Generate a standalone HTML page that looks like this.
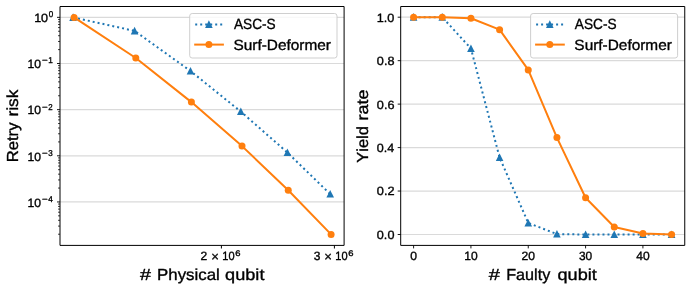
<!DOCTYPE html>
<html><head><meta charset="utf-8"><title>Retry risk and yield rate</title>
<style>html,body{margin:0;padding:0;background:#fff}svg{display:block;will-change:transform;opacity:0.999}text{font-family:"Liberation Sans",sans-serif;stroke:#000;stroke-width:0.35px;stroke-linejoin:round;text-rendering:geometricPrecision;font-kerning:none}</style></head>
<body>
<svg width="691" height="290" viewBox="0 0 691 290" fill="#000">
<rect width="691" height="290" fill="#fff"/>
<clipPath id="c1"><rect x="60" y="6.5" width="284.1" height="238.9"/></clipPath>
<line x1="60" x2="344.1" y1="17.35" y2="17.35" stroke="#dadada" stroke-width="1.2"/>
<line x1="60" x2="344.1" y1="63.5" y2="63.5" stroke="#dadada" stroke-width="1.2"/>
<line x1="60" x2="344.1" y1="109.65" y2="109.65" stroke="#dadada" stroke-width="1.2"/>
<line x1="60" x2="344.1" y1="155.8" y2="155.8" stroke="#dadada" stroke-width="1.2"/>
<line x1="60" x2="344.1" y1="201.95" y2="201.95" stroke="#dadada" stroke-width="1.2"/>
<g clip-path="url(#c1)">
<polyline points="73.1,17.4 134.6,30.9 190.5,71 240.8,111.6 287.4,152.5 330.2,194.1" fill="none" stroke="#1f77b4" stroke-width="2" stroke-dasharray="2 3.012" stroke-linejoin="round"/>
<path d="M73.1 13.3L76.9 20.9L69.3 20.9Z" fill="#1f77b4"/>
<path d="M134.6 26.8L138.4 34.4L130.8 34.4Z" fill="#1f77b4"/>
<path d="M190.5 66.9L194.3 74.5L186.7 74.5Z" fill="#1f77b4"/>
<path d="M240.8 107.5L244.6 115.1L237 115.1Z" fill="#1f77b4"/>
<path d="M287.4 148.4L291.2 156L283.6 156Z" fill="#1f77b4"/>
<path d="M330.2 190L334 197.6L326.4 197.6Z" fill="#1f77b4"/>
<polyline points="74.1,17.4 135.8,58 191.4,102.1 242,146.1 288.25,190.3 331.1,234.4" fill="none" stroke="#ff7f0e" stroke-width="2" stroke-linejoin="round" stroke-linecap="square"/>
<circle cx="74.1" cy="17.4" r="3.5" fill="#ff7f0e"/>
<circle cx="135.8" cy="58" r="3.5" fill="#ff7f0e"/>
<circle cx="191.4" cy="102.1" r="3.5" fill="#ff7f0e"/>
<circle cx="242" cy="146.1" r="3.5" fill="#ff7f0e"/>
<circle cx="288.25" cy="190.3" r="3.5" fill="#ff7f0e"/>
<circle cx="331.1" cy="234.4" r="3.5" fill="#ff7f0e"/>
</g>
<line x1="57" x2="60" y1="17.35" y2="17.35" stroke="#000" stroke-width="0.9"/>
<line x1="57" x2="60" y1="63.5" y2="63.5" stroke="#000" stroke-width="0.9"/>
<line x1="57" x2="60" y1="109.65" y2="109.65" stroke="#000" stroke-width="0.9"/>
<line x1="57" x2="60" y1="155.8" y2="155.8" stroke="#000" stroke-width="0.9"/>
<line x1="57" x2="60" y1="201.95" y2="201.95" stroke="#000" stroke-width="0.9"/>
<line x1="58" x2="60" y1="234.21" y2="234.21" stroke="#000" stroke-width="0.75"/>
<line x1="58" x2="60" y1="226.08" y2="226.08" stroke="#000" stroke-width="0.75"/>
<line x1="58" x2="60" y1="220.31" y2="220.31" stroke="#000" stroke-width="0.75"/>
<line x1="58" x2="60" y1="215.84" y2="215.84" stroke="#000" stroke-width="0.75"/>
<line x1="58" x2="60" y1="212.19" y2="212.19" stroke="#000" stroke-width="0.75"/>
<line x1="58" x2="60" y1="209.1" y2="209.1" stroke="#000" stroke-width="0.75"/>
<line x1="58" x2="60" y1="206.42" y2="206.42" stroke="#000" stroke-width="0.75"/>
<line x1="58" x2="60" y1="204.06" y2="204.06" stroke="#000" stroke-width="0.75"/>
<line x1="58" x2="60" y1="188.06" y2="188.06" stroke="#000" stroke-width="0.75"/>
<line x1="58" x2="60" y1="179.93" y2="179.93" stroke="#000" stroke-width="0.75"/>
<line x1="58" x2="60" y1="174.16" y2="174.16" stroke="#000" stroke-width="0.75"/>
<line x1="58" x2="60" y1="169.69" y2="169.69" stroke="#000" stroke-width="0.75"/>
<line x1="58" x2="60" y1="166.04" y2="166.04" stroke="#000" stroke-width="0.75"/>
<line x1="58" x2="60" y1="162.95" y2="162.95" stroke="#000" stroke-width="0.75"/>
<line x1="58" x2="60" y1="160.27" y2="160.27" stroke="#000" stroke-width="0.75"/>
<line x1="58" x2="60" y1="157.91" y2="157.91" stroke="#000" stroke-width="0.75"/>
<line x1="58" x2="60" y1="141.91" y2="141.91" stroke="#000" stroke-width="0.75"/>
<line x1="58" x2="60" y1="133.78" y2="133.78" stroke="#000" stroke-width="0.75"/>
<line x1="58" x2="60" y1="128.01" y2="128.01" stroke="#000" stroke-width="0.75"/>
<line x1="58" x2="60" y1="123.54" y2="123.54" stroke="#000" stroke-width="0.75"/>
<line x1="58" x2="60" y1="119.89" y2="119.89" stroke="#000" stroke-width="0.75"/>
<line x1="58" x2="60" y1="116.8" y2="116.8" stroke="#000" stroke-width="0.75"/>
<line x1="58" x2="60" y1="114.12" y2="114.12" stroke="#000" stroke-width="0.75"/>
<line x1="58" x2="60" y1="111.76" y2="111.76" stroke="#000" stroke-width="0.75"/>
<line x1="58" x2="60" y1="95.76" y2="95.76" stroke="#000" stroke-width="0.75"/>
<line x1="58" x2="60" y1="87.63" y2="87.63" stroke="#000" stroke-width="0.75"/>
<line x1="58" x2="60" y1="81.86" y2="81.86" stroke="#000" stroke-width="0.75"/>
<line x1="58" x2="60" y1="77.39" y2="77.39" stroke="#000" stroke-width="0.75"/>
<line x1="58" x2="60" y1="73.74" y2="73.74" stroke="#000" stroke-width="0.75"/>
<line x1="58" x2="60" y1="70.65" y2="70.65" stroke="#000" stroke-width="0.75"/>
<line x1="58" x2="60" y1="67.97" y2="67.97" stroke="#000" stroke-width="0.75"/>
<line x1="58" x2="60" y1="65.61" y2="65.61" stroke="#000" stroke-width="0.75"/>
<line x1="58" x2="60" y1="49.61" y2="49.61" stroke="#000" stroke-width="0.75"/>
<line x1="58" x2="60" y1="41.48" y2="41.48" stroke="#000" stroke-width="0.75"/>
<line x1="58" x2="60" y1="35.71" y2="35.71" stroke="#000" stroke-width="0.75"/>
<line x1="58" x2="60" y1="31.24" y2="31.24" stroke="#000" stroke-width="0.75"/>
<line x1="58" x2="60" y1="27.59" y2="27.59" stroke="#000" stroke-width="0.75"/>
<line x1="58" x2="60" y1="24.5" y2="24.5" stroke="#000" stroke-width="0.75"/>
<line x1="58" x2="60" y1="21.82" y2="21.82" stroke="#000" stroke-width="0.75"/>
<line x1="58" x2="60" y1="19.46" y2="19.46" stroke="#000" stroke-width="0.75"/>
<line x1="221.4" x2="221.4" y1="245.4" y2="248.5" stroke="#000" stroke-width="1.0"/>
<line x1="334.4" x2="334.4" y1="245.4" y2="248.5" stroke="#000" stroke-width="1.0"/>
<path d="M60 6.5H344.1V245.4H60Z" fill="none" stroke="#000" stroke-width="1.0" stroke-linejoin="miter"/>
<text x="34.15" y="22" font-size="12" textLength="13.94" lengthAdjust="spacingAndGlyphs" stroke-width="0.6">10</text>
<text x="48.79" y="17" font-size="8.5" textLength="4.48" lengthAdjust="spacingAndGlyphs" stroke-width="0.5">0</text>
<text x="27.43" y="68" font-size="12" textLength="13.5" lengthAdjust="spacingAndGlyphs" stroke-width="0.6">10</text>
<text x="41.92" y="63" font-size="8.5" textLength="5.71" lengthAdjust="spacingAndGlyphs" stroke-width="0.5">−</text>
<text x="48.32" y="63" font-size="8.5" textLength="4.58" lengthAdjust="spacingAndGlyphs" stroke-width="0.5">1</text>
<text x="27.43" y="114" font-size="12" textLength="13.5" lengthAdjust="spacingAndGlyphs" stroke-width="0.6">10</text>
<text x="41.92" y="110" font-size="8.5" textLength="5.71" lengthAdjust="spacingAndGlyphs" stroke-width="0.5">−</text>
<text x="48.15" y="110" font-size="8.5" textLength="4.39" lengthAdjust="spacingAndGlyphs" stroke-width="0.5">2</text>
<text x="27.43" y="161" font-size="12" textLength="13.5" lengthAdjust="spacingAndGlyphs" stroke-width="0.6">10</text>
<text x="41.92" y="156" font-size="8.5" textLength="5.71" lengthAdjust="spacingAndGlyphs" stroke-width="0.5">−</text>
<text x="48.24" y="156" font-size="8.5" textLength="4.46" lengthAdjust="spacingAndGlyphs" stroke-width="0.5">3</text>
<text x="27.43" y="207" font-size="12" textLength="13.5" lengthAdjust="spacingAndGlyphs" stroke-width="0.6">10</text>
<text x="41.92" y="202" font-size="8.5" textLength="5.71" lengthAdjust="spacingAndGlyphs" stroke-width="0.5">−</text>
<text x="48.16" y="202" font-size="8.5" textLength="4.58" lengthAdjust="spacingAndGlyphs" stroke-width="0.5">4</text>
<text x="200.59" y="260" font-size="12" textLength="6.71" lengthAdjust="spacingAndGlyphs" stroke-width="0.6">2</text>
<text x="211.2" y="261" font-size="13.2" textLength="7.6" lengthAdjust="spacingAndGlyphs" stroke-width="0.6">×</text>
<text x="222.36" y="260" font-size="12" textLength="12.27" lengthAdjust="spacingAndGlyphs" stroke-width="0.6">10</text>
<text x="235.2" y="256" font-size="8.1" textLength="5.24" lengthAdjust="spacingAndGlyphs">6</text>
<text x="313.74" y="260" font-size="12" textLength="6.69" lengthAdjust="spacingAndGlyphs" stroke-width="0.6">3</text>
<text x="324.2" y="261" font-size="13.2" textLength="7.6" lengthAdjust="spacingAndGlyphs" stroke-width="0.6">×</text>
<text x="335.36" y="260" font-size="12" textLength="12.27" lengthAdjust="spacingAndGlyphs" stroke-width="0.6">10</text>
<text x="348.19" y="256" font-size="8.1" textLength="5.24" lengthAdjust="spacingAndGlyphs">6</text>
<text x="139.99" y="280" font-size="16" textLength="10.93" lengthAdjust="spacingAndGlyphs">#</text>
<text x="157.09" y="280" font-size="16" textLength="62.66" lengthAdjust="spacingAndGlyphs">Physical</text>
<text x="225.11" y="280" font-size="16" textLength="39.34" lengthAdjust="spacingAndGlyphs">qubit</text>
<g transform="translate(18.4,161.1) rotate(-90)"><text x="-1.19" y="0" font-size="16" textLength="39.75" lengthAdjust="spacingAndGlyphs">Retry</text><text x="44.52" y="0" font-size="16" textLength="26.98" lengthAdjust="spacingAndGlyphs">risk</text></g>
<rect x="189.7" y="13.5" width="147.3" height="44.5" rx="2.5" ry="2.5" fill="#fff" fill-opacity="0.8" stroke="#cccccc" stroke-opacity="0.95" stroke-width="1"/>
<line x1="195.2" x2="222.9" y1="24.4" y2="24.4" stroke="#1f77b4" stroke-width="2" stroke-dasharray="2 3"/>
<path d="M208.9 20.3L212.7 27.9L205.1 27.9Z" fill="#1f77b4"/>
<line x1="195.2" x2="222.9" y1="44.6" y2="44.6" stroke="#ff7f0e" stroke-width="2" stroke-linecap="square"/>
<circle cx="208.9" cy="44.6" r="3.5" fill="#ff7f0e"/>
<text x="233.95" y="29" font-size="14.8" textLength="41.8" lengthAdjust="spacingAndGlyphs">ASC-S</text>
<text x="233.48" y="50" font-size="14.8" textLength="97.5" lengthAdjust="spacingAndGlyphs">Surf-Deformer</text>
<clipPath id="c2"><rect x="400.7" y="6.5" width="284.05" height="238.9"/></clipPath>
<line x1="400.7" x2="684.75" y1="234.5" y2="234.5" stroke="#dadada" stroke-width="1.2"/>
<line x1="400.7" x2="684.75" y1="191.04" y2="191.04" stroke="#dadada" stroke-width="1.2"/>
<line x1="400.7" x2="684.75" y1="147.58" y2="147.58" stroke="#dadada" stroke-width="1.2"/>
<line x1="400.7" x2="684.75" y1="104.12" y2="104.12" stroke="#dadada" stroke-width="1.2"/>
<line x1="400.7" x2="684.75" y1="60.66" y2="60.66" stroke="#dadada" stroke-width="1.2"/>
<line x1="400.7" x2="684.75" y1="17.2" y2="17.2" stroke="#dadada" stroke-width="1.2"/>
<g clip-path="url(#c2)">
<polyline points="413.6,17.2 442.27,17.2 470.93,48.49 499.6,157.58 528.26,222.98 556.92,234.07 585.59,234.5 614.25,234.5 642.92,234.5 671.59,234.5" fill="none" stroke="#1f77b4" stroke-width="2" stroke-dasharray="2 3.024" stroke-linejoin="round"/>
<path d="M413.6 13.1L417.4 20.7L409.8 20.7Z" fill="#1f77b4"/>
<path d="M442.27 13.1L446.07 20.7L438.47 20.7Z" fill="#1f77b4"/>
<path d="M470.93 44.39L474.73 51.99L467.13 51.99Z" fill="#1f77b4"/>
<path d="M499.6 153.48L503.4 161.08L495.8 161.08Z" fill="#1f77b4"/>
<path d="M528.26 218.88L532.06 226.48L524.46 226.48Z" fill="#1f77b4"/>
<path d="M556.92 229.97L560.72 237.57L553.12 237.57Z" fill="#1f77b4"/>
<path d="M585.59 230.4L589.39 238L581.79 238Z" fill="#1f77b4"/>
<path d="M614.25 230.4L618.05 238L610.46 238Z" fill="#1f77b4"/>
<path d="M642.92 230.4L646.72 238L639.12 238Z" fill="#1f77b4"/>
<path d="M671.59 230.4L675.38 238L667.79 238Z" fill="#1f77b4"/>
<polyline points="413.6,17.2 442.27,17.2 470.93,18.29 499.6,29.69 528.26,69.9 556.92,137.58 585.59,197.78 614.25,227 642.92,233.52 671.59,234.5" fill="none" stroke="#ff7f0e" stroke-width="2" stroke-linejoin="round" stroke-linecap="square"/>
<circle cx="413.6" cy="17.2" r="3.5" fill="#ff7f0e"/>
<circle cx="442.27" cy="17.2" r="3.5" fill="#ff7f0e"/>
<circle cx="470.93" cy="18.29" r="3.5" fill="#ff7f0e"/>
<circle cx="499.6" cy="29.69" r="3.5" fill="#ff7f0e"/>
<circle cx="528.26" cy="69.9" r="3.5" fill="#ff7f0e"/>
<circle cx="556.92" cy="137.58" r="3.5" fill="#ff7f0e"/>
<circle cx="585.59" cy="197.78" r="3.5" fill="#ff7f0e"/>
<circle cx="614.25" cy="227" r="3.5" fill="#ff7f0e"/>
<circle cx="642.92" cy="233.52" r="3.5" fill="#ff7f0e"/>
<circle cx="671.59" cy="234.5" r="3.5" fill="#ff7f0e"/>
</g>
<line x1="397.7" x2="400.7" y1="234.5" y2="234.5" stroke="#000" stroke-width="0.9"/>
<text x="376.86" y="239" font-size="12" textLength="17.54" lengthAdjust="spacingAndGlyphs" stroke-width="0.6">0.0</text>
<line x1="397.7" x2="400.7" y1="191.04" y2="191.04" stroke="#000" stroke-width="0.9"/>
<text x="376.85" y="195" font-size="12" textLength="17.69" lengthAdjust="spacingAndGlyphs" stroke-width="0.6">0.2</text>
<line x1="397.7" x2="400.7" y1="147.58" y2="147.58" stroke="#000" stroke-width="0.9"/>
<text x="376.86" y="152" font-size="12" textLength="17.41" lengthAdjust="spacingAndGlyphs" stroke-width="0.6">0.4</text>
<line x1="397.7" x2="400.7" y1="104.12" y2="104.12" stroke="#000" stroke-width="0.9"/>
<text x="376.86" y="109" font-size="12" textLength="17.6" lengthAdjust="spacingAndGlyphs" stroke-width="0.6">0.6</text>
<line x1="397.7" x2="400.7" y1="60.66" y2="60.66" stroke="#000" stroke-width="0.9"/>
<text x="376.86" y="65" font-size="12" textLength="17.59" lengthAdjust="spacingAndGlyphs" stroke-width="0.6">0.8</text>
<line x1="397.7" x2="400.7" y1="17.2" y2="17.2" stroke="#000" stroke-width="0.9"/>
<text x="376.84" y="22" font-size="12" textLength="17.56" lengthAdjust="spacingAndGlyphs" stroke-width="0.6">1.0</text>
<line x1="413.6" x2="413.6" y1="245.4" y2="248.4" stroke="#000" stroke-width="0.9"/>
<text x="410.23" y="260" font-size="12" textLength="6.75" lengthAdjust="spacingAndGlyphs" stroke-width="0.6">0</text>
<line x1="470.93" x2="470.93" y1="245.4" y2="248.4" stroke="#000" stroke-width="0.9"/>
<text x="464.21" y="260" font-size="12" textLength="13.39" lengthAdjust="spacingAndGlyphs" stroke-width="0.6">10</text>
<line x1="528.26" x2="528.26" y1="245.4" y2="248.4" stroke="#000" stroke-width="0.9"/>
<text x="521.45" y="260" font-size="12" textLength="13.48" lengthAdjust="spacingAndGlyphs" stroke-width="0.6">20</text>
<line x1="585.59" x2="585.59" y1="245.4" y2="248.4" stroke="#000" stroke-width="0.9"/>
<text x="578.99" y="260" font-size="12" textLength="13.27" lengthAdjust="spacingAndGlyphs" stroke-width="0.6">30</text>
<line x1="642.92" x2="642.92" y1="245.4" y2="248.4" stroke="#000" stroke-width="0.9"/>
<text x="636.19" y="260" font-size="12" textLength="13.4" lengthAdjust="spacingAndGlyphs" stroke-width="0.6">40</text>
<path d="M400.7 6.5H684.75V245.4H400.7Z" fill="none" stroke="#000" stroke-width="1.0" stroke-linejoin="miter"/>
<text x="488.89" y="280" font-size="16" textLength="11.14" lengthAdjust="spacingAndGlyphs">#</text>
<text x="506.25" y="280" font-size="16" textLength="44.01" lengthAdjust="spacingAndGlyphs">Faulty</text>
<text x="557.52" y="280" font-size="16" textLength="39.24" lengthAdjust="spacingAndGlyphs">qubit</text>
<g transform="translate(367.7,162.5) rotate(-90)"><text x="-0.19" y="0" font-size="16" textLength="36.57" lengthAdjust="spacingAndGlyphs">Yield</text><text x="42.08" y="0" font-size="16" textLength="30.94" lengthAdjust="spacingAndGlyphs">rate</text></g>
<rect x="530.6" y="13.5" width="147" height="44.5" rx="2.5" ry="2.5" fill="#fff" fill-opacity="0.8" stroke="#cccccc" stroke-opacity="0.95" stroke-width="1"/>
<line x1="536.1" x2="563.8" y1="24.4" y2="24.4" stroke="#1f77b4" stroke-width="2" stroke-dasharray="2 3"/>
<path d="M549.8 20.3L553.6 27.9L546 27.9Z" fill="#1f77b4"/>
<line x1="536.1" x2="563.8" y1="44.6" y2="44.6" stroke="#ff7f0e" stroke-width="2" stroke-linecap="square"/>
<circle cx="549.8" cy="44.6" r="3.5" fill="#ff7f0e"/>
<text x="574.85" y="29" font-size="14.8" textLength="41.8" lengthAdjust="spacingAndGlyphs">ASC-S</text>
<text x="574.38" y="50" font-size="14.8" textLength="97.5" lengthAdjust="spacingAndGlyphs">Surf-Deformer</text>
</svg>
</body></html>
